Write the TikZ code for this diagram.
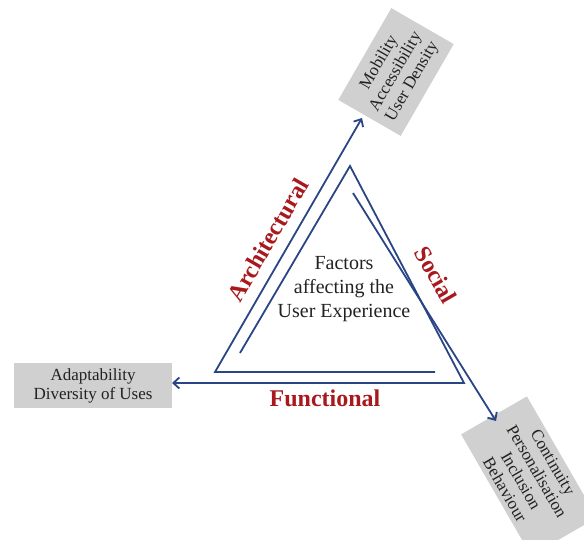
\documentclass[tikz,border=0pt]{standalone}
\usepackage{fontspec}
\setmainfont{Liberation Serif}
\usetikzlibrary{arrows.meta}
\definecolor{linkblue}{HTML}{2A4585}
\definecolor{labelred}{HTML}{A8191E}
\definecolor{boxgray}{HTML}{D0D0D0}
\definecolor{inktext}{HTML}{222222}

\begin{document}
\begin{tikzpicture}[x=1pt,y=-1pt,
  flow/.style={draw=linkblue, line width=1.8pt, line join=miter},
  tip/.style={-{Straight Barb[length=6pt,width=11pt,line width=1.8pt]}},
  factor/.style={fill=boxgray, text=inktext, align=center, inner sep=0pt,
    font=\fontsize{17}{19}\selectfont},
  aspect/.style={text=labelred, font=\fontsize{24}{28}\selectfont\bfseries},
  core/.style={text=inktext, align=center, font=\fontsize{20}{24}\selectfont},
]
\useasboundingbox (0,0) rectangle (584,540);

% factor boxes
\node[factor, minimum width=158pt, minimum height=45pt] (funcbox) at (93,385.5)
  {Adaptability\\Diversity of Uses};
\node[factor, rotate=60, minimum width=106pt, minimum height=72pt] (archbox) at (396,72)
  {Mobility\\Accessibility\\User Density};
\node[factor, rotate=-60, minimum width=140pt, minimum height=76pt,
  font=\fontsize{17}{18.5}\selectfont] (socbox) at (529,476)
  {Continuity\\Personalisation\\Inclusion\\Behaviour};

% central statement
\node[core] (centre) at (344,289) {Factors\\affecting the\\User Experience};

% side labels
\node[aspect, rotate=60] (archlabel) at (268,240) {Architectural};
\node[aspect, rotate=-60] (soclabel) at (436,275) {Social};
\node[aspect] (funclabel) at (325,398) {Functional};

% corner points of the three strokes
\coordinate (a0) at (435,372);
\coordinate (a1) at (215,372);
\coordinate (a2) at (362,118);
\coordinate (f0) at (240,353);
\coordinate (f1) at (350,166);
\coordinate (f2) at (464,383);
\coordinate (f3) at (172,383);
\coordinate (s0) at (353,193);
\coordinate (s1) at (496,421);

\draw[flow, tip] (a0) -- (a1) -- (a2);
\draw[flow, tip] (f0) -- (f1) -- (f2) -- (f3);
\draw[flow, tip] (s0) -- (s1);
\end{tikzpicture}
\end{document}
